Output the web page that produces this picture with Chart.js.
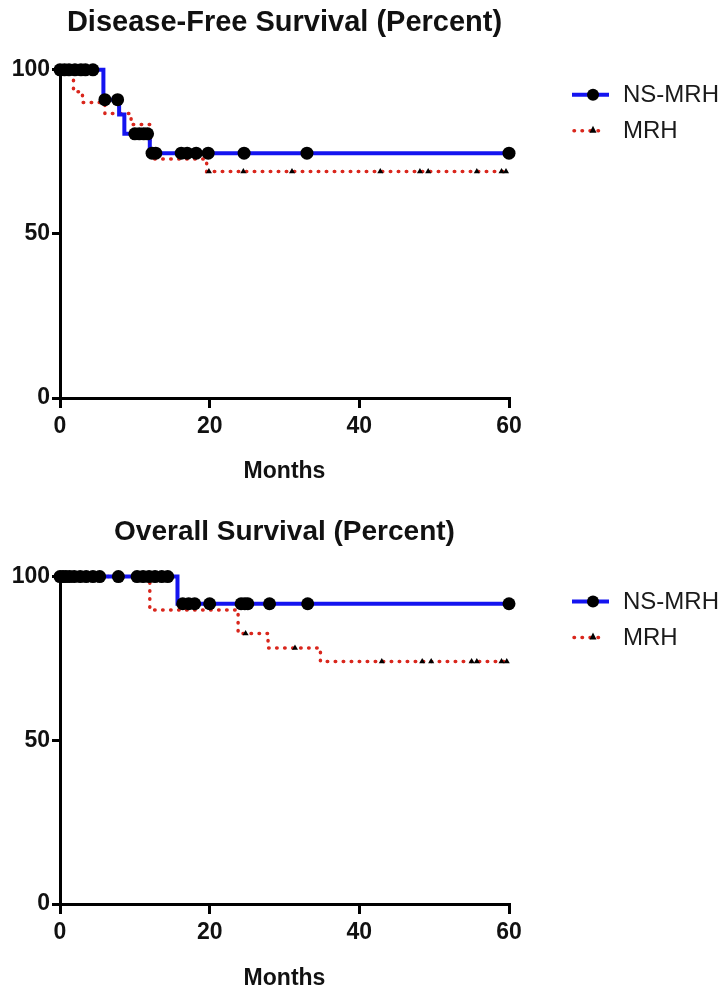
<!DOCTYPE html>
<html>
<head>
    <title>Survival curves</title>
    <script src="https://cdn.jsdelivr.net/npm/chart.js"></script>
    <style>
        body { margin: 0; background: #fff; }
        canvas { display: block; }
    </style>
</head>
<body>
    <canvas id="dfsChart" width="727" height="496"></canvas>
    <canvas id="osChart" width="727" height="496"></canvas>

    <script>
        // Kaplan-Meier steps: time (months) where the curve drops, and the new level (%)
        const dfsNsTime = [0, 5.8, 7.9, 8.6, 12.0, 60];
        const dfsNsSurv = [100, 90.9, 86.4, 80.5, 74.6, 74.6];
        const dfsNsCensor = [0, 0.6, 1.2, 2.0, 2.8, 3.4, 4.4, 6.0, 7.7, 10.0, 10.6, 11.2, 11.7,
                             12.3, 12.8, 16.2, 17.0, 18.2, 19.8, 24.6, 33.0, 60];

        const dfsMrhTime = [0, 1.8, 3.0, 6.0, 9.5, 12.0, 19.6, 60];
        const dfsMrhSurv = [100, 93.3, 90.0, 86.7, 83.3, 72.8, 69.0, 69.0];
        const dfsMrhCensor = [19.9, 24.5, 31.0, 42.8, 48.1, 49.2, 55.7, 59.0, 59.6];

        const osNsTime = [0, 15.7, 60];
        const osNsSurv = [100, 91.7, 91.7];
        const osNsCensor = [0, 0.4, 0.8, 1.3, 1.9, 2.7, 3.5, 4.4, 5.3, 7.8, 10.3, 11.1, 11.9, 12.7,
                            13.6, 14.4, 16.4, 17.2, 18.0, 20.0, 24.2, 24.7, 25.1, 28.0, 33.1, 60];

        const osMrhTime = [0, 12.0, 23.8, 27.8, 34.8, 60];
        const osMrhSurv = [100, 89.8, 82.6, 78.2, 74.1, 74.1];
        const osMrhCensor = [24.8, 31.4, 43.0, 48.4, 49.6, 55.0, 55.7, 59.0, 59.7];

        const xTicks = [0, 20, 40, 60];
        const yTicks = [0, 50, 100];
        const seriesNames = ['NS-MRH', 'MRH'];

        const FONT = '"Liberation Sans", Arial, Helvetica, sans-serif';
        const BLUE = '#1414f0';
        const RED = '#d9261c';

        function steps(times, surv) {
            return times.map((t, i) => ({x: t, y: surv[i]}));
        }

        // survival level in force at time t
        function levelAt(times, surv, t) {
            let v = surv[0];
            for (let i = 0; i < times.length; i++) {
                if (times[i] <= t) v = surv[i];
            }
            return v;
        }

        function censorPoints(times, surv, marks) {
            return marks.map(t => ({x: t, y: levelAt(times, surv, t)}));
        }

        const legendPlugin = {
            id: 'kmLegend',
            afterDraw(chart, args, opts) {
                const ctx = chart.ctx;
                const top = chart.chartArea.top;
                const y1 = top + opts.dy1;
                const y2 = top + opts.dy2;
                ctx.save();
                // NS-MRH sample
                ctx.strokeStyle = BLUE;
                ctx.lineWidth = 4;
                ctx.beginPath();
                ctx.moveTo(572, y1);
                ctx.lineTo(609, y1);
                ctx.stroke();
                ctx.fillStyle = '#000';
                ctx.beginPath();
                ctx.arc(593, y1, 6, 0, Math.PI * 2);
                ctx.fill();
                // MRH sample
                ctx.strokeStyle = RED;
                ctx.lineWidth = 3.5;
                ctx.lineCap = 'round';
                ctx.setLineDash([0.5, 7.5]);
                ctx.beginPath();
                ctx.moveTo(574, y2);
                ctx.lineTo(606, y2);
                ctx.stroke();
                ctx.setLineDash([]);
                ctx.fillStyle = '#000';
                ctx.beginPath();
                ctx.moveTo(593, y2 - 5);
                ctx.lineTo(596.5, y2 + 2);
                ctx.lineTo(589.5, y2 + 2);
                ctx.closePath();
                ctx.fill();
                // labels
                ctx.fillStyle = '#1a1a1a';
                ctx.font = '24px ' + FONT;
                ctx.textAlign = 'left';
                ctx.textBaseline = 'middle';
                ctx.fillText(seriesNames[0], 623, y1 + 1);
                ctx.fillText(seriesNames[1], 623, y2 + 1);
                ctx.restore();
            }
        };

        function makeChart(id, title, ns, mrh, lay) {
            const ctx = document.getElementById(id).getContext('2d');
            return new Chart(ctx, {
                type: 'line',
                data: {
                    datasets: [
                        {
                            label: seriesNames[0] + ' censored',
                            data: censorPoints(ns.time, ns.surv, ns.censor),
                            showLine: false,
                            pointRadius: 6.5,
                            pointBackgroundColor: '#000',
                            pointBorderColor: '#000',
                            pointBorderWidth: 0,
                            clip: false,
                            order: 0
                        },
                        {
                            label: seriesNames[1] + ' censored',
                            data: censorPoints(mrh.time, mrh.surv, mrh.censor),
                            showLine: false,
                            pointStyle: 'triangle',
                            pointRadius: 3.5,
                            pointBackgroundColor: '#000',
                            pointBorderColor: '#000',
                            pointBorderWidth: 0,
                            clip: false,
                            order: 1
                        },
                        {
                            label: seriesNames[0],
                            data: steps(ns.time, ns.surv),
                            stepped: 'before',
                            borderColor: BLUE,
                            borderWidth: 4,
                            pointRadius: 0,
                            fill: false,
                            clip: false,
                            order: 2
                        },
                        {
                            label: seriesNames[1],
                            data: steps(mrh.time, mrh.surv),
                            stepped: 'before',
                            borderColor: RED,
                            borderWidth: 3.5,
                            borderCapStyle: 'round',
                            borderDash: [0.5, 7.5],
                            pointRadius: 0,
                            fill: false,
                            clip: false,
                            order: 3
                        }
                    ]
                },
                options: {
                    responsive: false,
                    animation: false,
                    events: [],
                    layout: {padding: {left: 0, right: 218, top: 0, bottom: 0}},
                    scales: {
                        x: {
                            type: 'linear',
                            min: 0,
                            max: 60,
                            afterBuildTicks: s => { s.ticks = xTicks.map(v => ({value: v})); },
                            afterFit: s => { s.height = lay.xHeight; },
                            ticks: {
                                color: '#111',
                                padding: 5,
                                maxRotation: 0,
                                font: {family: FONT, size: 23, weight: 'bold'}
                            },
                            grid: {
                                drawOnChartArea: false,
                                drawTicks: true,
                                tickLength: 10,
                                color: '#000',
                                lineWidth: 3
                            },
                            border: {color: '#000', width: 3},
                            title: {
                                display: true,
                                text: 'Months',
                                color: '#111',
                                padding: {top: 0, bottom: lay.monthsPad},
                                font: {family: FONT, size: 23, weight: 'bold'}
                            }
                        },
                        y: {
                            min: 0,
                            max: 100,
                            afterBuildTicks: s => { s.ticks = yTicks.map(v => ({value: v})); },
                            afterFit: s => { s.width = 60; },
                            ticks: {
                                color: '#111',
                                padding: 2,
                                font: {family: FONT, size: 23, weight: 'bold'}
                            },
                            grid: {
                                drawOnChartArea: false,
                                drawTicks: true,
                                tickLength: 8,
                                color: '#000',
                                lineWidth: 3
                            },
                            border: {color: '#000', width: 3}
                        }
                    },
                    plugins: {
                        legend: {display: false},
                        tooltip: {enabled: false},
                        title: {
                            display: true,
                            text: title,
                            fullSize: false,
                            color: '#111',
                            padding: {top: lay.titleTop, bottom: lay.titleBottom},
                            font: {family: FONT, size: lay.titleSize, weight: 'bold'}
                        },
                        kmLegend: {dy1: 25, dy2: 61}
                    }
                },
                plugins: [legendPlugin]
            });
        }

        makeChart('dfsChart', 'Disease-Free Survival (Percent)',
            {time: dfsNsTime, surv: dfsNsSurv, censor: dfsNsCensor},
            {time: dfsMrhTime, surv: dfsMrhSurv, censor: dfsMrhCensor},
            {titleTop: 6, titleBottom: 29, titleSize: 29, xHeight: 98, monthsPad: 11});

        makeChart('osChart', 'Overall Survival (Percent)',
            {time: osNsTime, surv: osNsSurv, censor: osNsCensor},
            {time: osMrhTime, surv: osMrhSurv, censor: osMrhCensor},
            {titleTop: 19, titleBottom: 28, titleSize: 28, xHeight: 88, monthsPad: 0});
    </script>
</body>
</html>
